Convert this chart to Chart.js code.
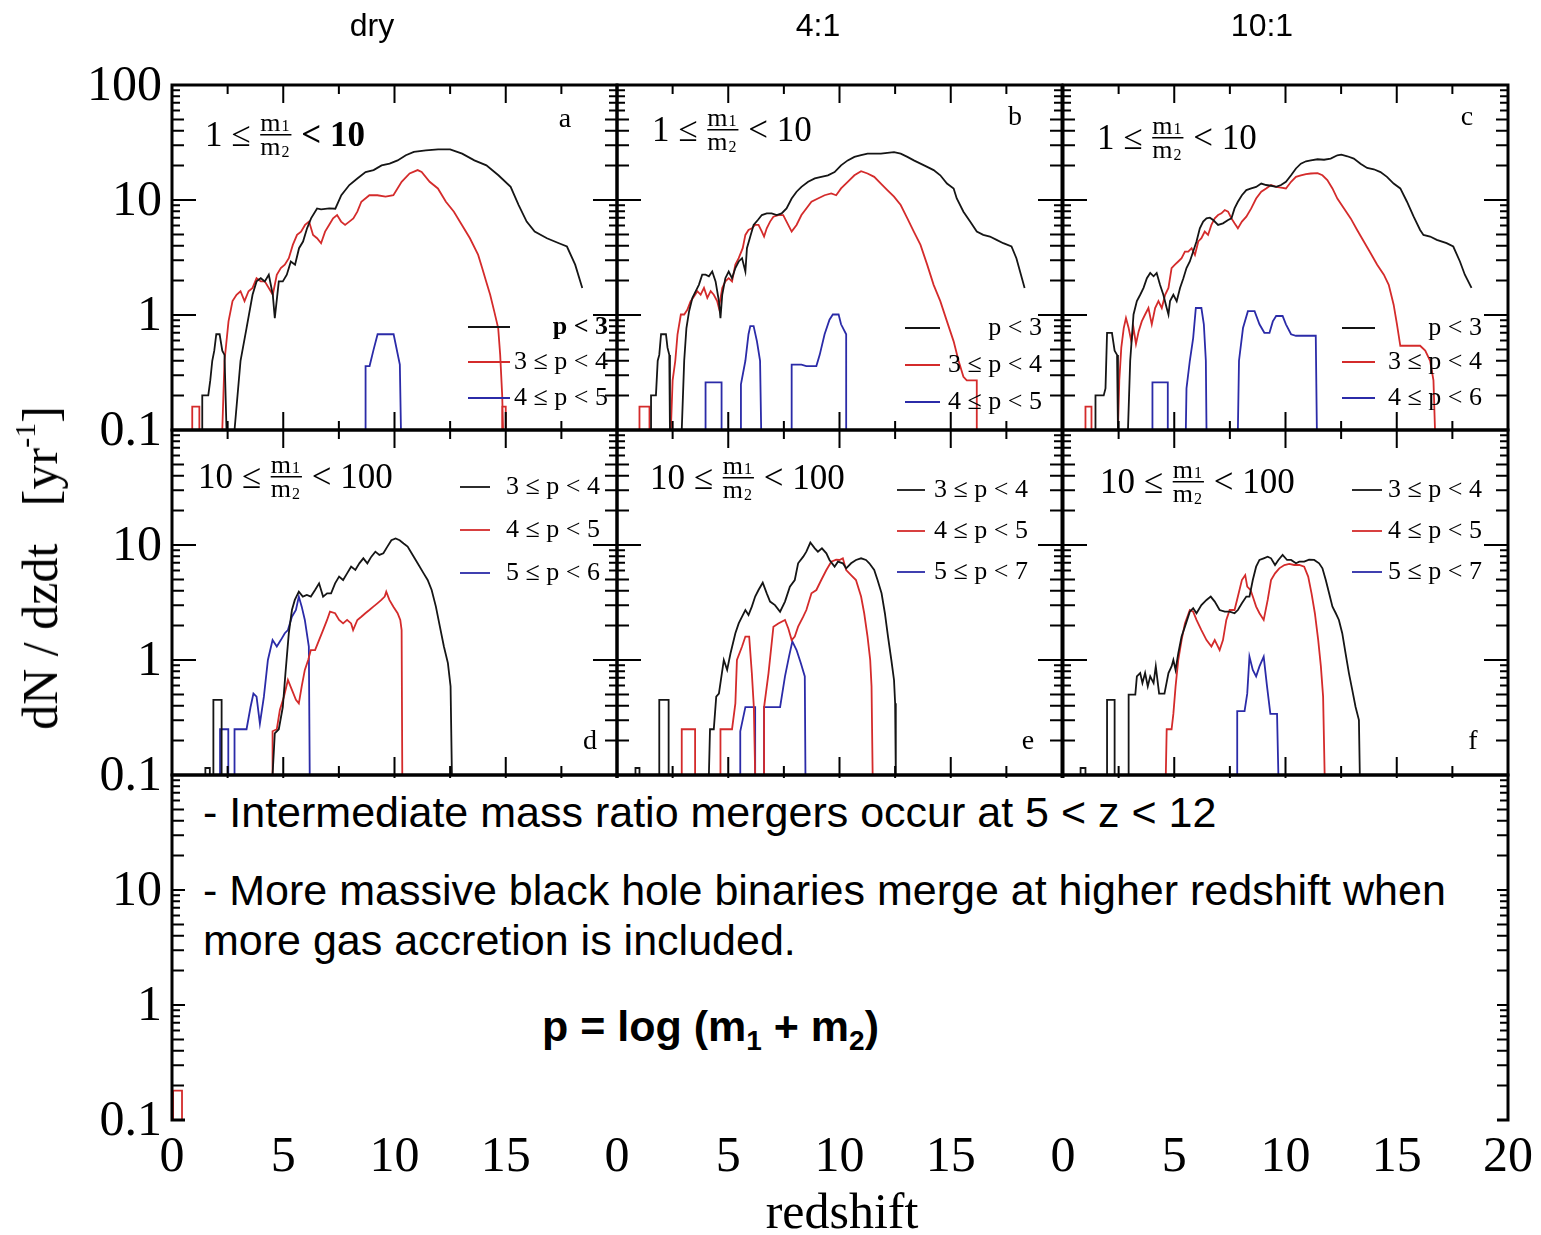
<!DOCTYPE html>
<html>
<head>
<meta charset="utf-8">
<title>Merger rates vs redshift</title>
<script src="https://cdn.jsdelivr.net/npm/chart.js@4.4.0/dist/chart.umd.min.js"></script>
<style>
  body { margin: 0; background: #fff; }
  #fig { position: relative; width: 1541px; height: 1235px; overflow: hidden; background: #fff; }
  #panels canvas { position: absolute; }
  #panels { position: absolute; left: 0; top: 0; width: 1541px; height: 1235px; z-index: 1; }
  .colTitle { position: absolute; top: 9px; width: 200px; margin-left: -100px; text-align: center;
              font: 32px "Liberation Sans", Arial, sans-serif; line-height: 32px; z-index: 3; }
  .axisTitle { position: absolute; font: 50px "Liberation Serif", "Times New Roman", serif; line-height: 50px;
               white-space: nowrap; z-index: 3; }
  #ytitle { left: 40px; top: 568px; transform: translate(-50%, -50%) rotate(-90deg); }
  #ytitle sup { font-size: 30px; vertical-align: 22px; line-height: 0; }
  #xtitle { left: 842px; top: 1186px; transform: translateX(-50%); }
  #note { position: absolute; left: 185px; top: 778px; width: 1312px; height: 344px; background: #fff; z-index: 2;
          font: 43px "Liberation Sans", Arial, sans-serif; line-height: 43px; color: #000; }
  #note div { position: absolute; left: 18px; white-space: nowrap; }
  #note .formula { left: 357px; font-weight: bold; }
  #note sub { font-size: 28px; vertical-align: -9px; line-height: 0; }
</style>
</head>
<body>
<div id="fig">
  <div id="panels"></div>
  <div id="titles"></div>
  <div class="axisTitle" id="ytitle">dN / dzdt&nbsp;&nbsp;&nbsp;[yr<sup>-1</sup>]</div>
  <div class="axisTitle" id="xtitle">redshift</div>
  <div id="note">
    <div style="top:13px">- Intermediate mass ratio mergers occur at 5 &lt; z &lt; 12</div>
    <div style="top:91px">- More massive black hole binaries merge at higher redshift when</div>
    <div style="top:141px">more gas accretion is included.</div>
    <div class="formula" style="top:227px">p = log (m<sub>1</sub> + m<sub>2</sub>)</div>
  </div>
</div>
<script>
// column headings and axis ticks
const colTitles = ['dry', '4:1', '10:1'];
const colTitleX = [372, 818, 1262];
const yTickVals = [0.1, 1, 10, 100];
const xTickVals = [0, 5, 10, 15, 20];

// legend labels
const legendTop = ['p < 3', '3 ≤ p < 4', '4 ≤ p < 5'];
const legendTopC = ['p < 3', '3 ≤ p < 4', '4 ≤ p < 6'];
const legendMidD = ['3 ≤ p < 4', '4 ≤ p < 5', '5 ≤ p < 6'];
const legendMidEF = ['3 ≤ p < 4', '4 ≤ p < 5', '5 ≤ p < 7'];

// [redshift, dN/dzdt]; null breaks the line
const pa_black = [[1.36,0.1],[1.36,0.2],[1.63,0.2],[1.72,0.27],[1.81,0.4],[1.9,0.49],[1.99,0.68],[2.14,0.68],[2.26,0.49],[2.36,0.45],[2.45,0.1],null,
  [2.81,0.1],[3.08,0.4],[3.35,0.77],[3.62,1.5],[3.8,1.96],[3.99,2.09],[4.17,1.96],[4.35,2.24],[4.53,1.5],[4.62,0.94],[4.8,1.96],[4.98,1.96],[5.16,2.24],[5.34,2.92],[5.53,2.74],[5.71,3.81],[5.89,4.35],[6.07,5.67],[6.25,6.92],[6.52,8.45],[6.7,8.3],[7.07,8.45],[7.34,8.4],[7.61,11],[7.97,13.5],[8.33,15.4],[8.7,17.5],[9.06,18.2],[9.42,20],[9.78,20.7],[10.14,22.1],[10.51,24.5],[10.87,26.2],[11.41,27],[11.96,27.6],[12.5,27.6],[13.04,25.3],[13.59,22.1],[14.13,20],[14.67,16.4],[15.22,13],[15.58,9.04],[15.94,6.49],[16.3,5.31],[16.85,4.65],[17.39,4.21],[17.75,3.94],[18.12,2.74],[18.44,1.72]];
const pa_red = [[0.91,0.1],[0.91,0.16],[1.23,0.16],[1.23,0.1],null,
  [2.26,0.1],[2.36,0.4],[2.54,0.88],[2.72,1.32],[2.9,1.5],[3.08,1.61],[3.26,1.32],[3.44,1.61],[3.62,1.72],[3.8,2.09],[3.99,1.96],[4.17,1.96],[4.35,1.72],[4.53,1.5],[4.71,2.24],[4.89,2.56],[5.07,2.74],[5.25,3.12],[5.43,4.07],[5.62,4.97],[5.8,5.31],[5.98,6.07],[6.16,6.49],[6.34,4.97],[6.52,4.65],[6.7,4.21],[6.88,5.31],[7.06,6.07],[7.24,6.92],[7.42,7.4],[7.6,6.49],[7.78,6.07],[7.97,6.49],[8.15,6.92],[8.33,7.91],[8.51,9.66],[8.87,11],[9.23,11],[9.6,10.7],[9.95,11],[10.32,14.4],[10.68,17],[11.04,18.2],[11.22,17.5],[11.58,14.4],[11.95,12.6],[12.31,9.66],[12.67,7.91],[13.03,6.07],[13.39,4.65],[13.76,3.33],[13.94,2.56],[14.12,1.96],[14.3,1.5],[14.48,1.08],[14.66,0.77],[14.75,0.45],[14.84,0.2],[14.88,0.1],null,
  [14.84,0.1],[14.84,0.16],[15.0,0.16],[15.0,0.1]];
const pa_blue = [[8.7,0.1],[8.7,0.36],[8.88,0.36],[9.06,0.5],[9.24,0.68],[9.96,0.68],[10.24,0.37],[10.29,0.1]];

const pb_black = [[1.53,0.1],[1.53,0.2],[1.75,0.2],[1.83,0.4],[1.9,0.45],[1.98,0.68],[2.2,0.68],[2.27,0.52],[2.35,0.45],[2.38,0.1],null,
  [2.91,0.1],[3.02,0.4],[3.12,0.77],[3.24,1.08],[3.39,1.41],[3.54,1.61],[3.68,1.83],[3.83,2.24],[3.98,2.24],[4.13,2.17],[4.28,2.39],[4.43,1.96],[4.58,1.32],[4.65,0.94],[4.73,1.5],[4.87,2.09],[5.02,2.39],[5.17,2.09],[5.32,2.56],[5.47,2.92],[5.62,3.12],[5.77,2.39],[5.84,3.81],[5.99,4.81],[6.14,6.07],[6.33,6.7],[6.51,7.4],[6.73,7.65],[6.95,7.65],[7.18,7.4],[7.4,7.65],[7.62,8.45],[7.85,10.3],[8.07,11.8],[8.29,13],[8.59,14.4],[8.89,15.4],[9.18,15.9],[9.48,16.4],[9.78,17.5],[10.07,20],[10.37,22.1],[10.67,23.7],[10.97,24.5],[11.26,25.3],[11.56,25.3],[11.86,25.3],[12.15,25.7],[12.45,26.1],[12.75,25.3],[13.05,23.7],[13.34,22.1],[13.64,20.7],[13.94,19.4],[14.23,18.2],[14.53,16.4],[14.83,13.9],[15.13,12.6],[15.27,10.3],[15.57,7.91],[15.87,6.49],[16.17,5.31],[16.46,4.97],[16.76,4.81],[17.06,4.5],[17.36,4.21],[17.73,3.94],[17.95,3.12],[18.32,1.72]];
const pb_red = [[1.01,0.1],[1.01,0.16],[1.46,0.16],[1.46,0.1],null,
  [2.42,0.1],[2.5,0.27],[2.62,0.4],[2.72,0.68],[2.87,1.01],[3.02,1.01],[3.16,1.11],[3.31,1.32],[3.46,1.45],[3.61,1.61],[3.76,1.5],[3.91,1.72],[4.06,1.41],[4.21,1.61],[4.35,1.5],[4.5,1.32],[4.58,1.15],[4.73,1.72],[4.87,1.96],[5.02,2.09],[5.17,1.96],[5.32,2.74],[5.47,3.12],[5.65,3.81],[5.77,4.97],[5.91,5.49],[6.06,5.67],[6.21,6.07],[6.36,6.07],[6.51,5.31],[6.61,4.81],[6.73,5.67],[6.88,6.49],[7.03,7.16],[7.25,7.4],[7.47,7.4],[7.62,6.49],[7.85,5.31],[8.07,6.07],[8.29,7.4],[8.51,8.45],[8.74,9.66],[9.03,10.3],[9.33,11],[9.63,11.4],[9.85,11],[10.07,12.6],[10.37,14.4],[10.67,16.4],[10.97,17.8],[11.26,17],[11.56,15.9],[11.86,13.9],[12.15,12.2],[12.45,10.7],[12.75,9.04],[13.05,6.92],[13.34,5.31],[13.64,4.07],[13.94,2.74],[14.23,1.83],[14.53,1.32],[14.83,0.88],[15.13,0.59],[15.35,0.4],[15.57,0.29],[15.72,0.27],[16.17,0.27],[16.17,0.1]];
const pb_blue = [[3.98,0.1],[3.98,0.26],[4.7,0.26],[4.7,0.1],null,
  [5.57,0.1],[5.57,0.25],[5.77,0.4],[5.91,0.68],[5.99,0.8],[6.14,0.8],[6.29,0.59],[6.43,0.4],[6.48,0.1],null,
  [7.85,0.1],[7.85,0.37],[8.29,0.37],[8.51,0.36],[8.96,0.36],[9.11,0.45],[9.33,0.68],[9.55,0.91],[9.7,1.01],[9.96,1.01],[10.07,0.83],[10.3,0.68],[10.3,0.1]];

const pc_black = [[1.46,0.1],[1.46,0.2],[1.83,0.2],[1.91,0.23],[1.98,0.7],[2.2,0.7],[2.32,0.49],[2.43,0.45],[2.47,0.1],null,
  [2.92,0.1],[3.02,0.4],[3.17,1.01],[3.32,1.32],[3.47,1.5],[3.62,1.72],[3.77,2.09],[3.92,2.32],[4.07,2.17],[4.21,2.32],[4.36,1.83],[4.51,1.5],[4.66,1.15],[4.74,1.01],[4.81,1.32],[4.96,1.5],[5.11,1.32],[5.26,1.72],[5.41,2.09],[5.55,2.56],[5.7,2.92],[5.85,3.56],[6.0,4.36],[6.15,5.67],[6.3,6.49],[6.45,6.92],[6.6,7.02],[6.75,6.7],[6.97,6.07],[7.19,6.27],[7.42,6.7],[7.57,6.92],[7.71,8.45],[7.86,9.66],[8.04,11],[8.24,12.2],[8.46,12.6],[8.68,13],[8.91,13.9],[9.13,13.5],[9.35,13.3],[9.58,13],[9.8,13.5],[10.02,14.4],[10.25,16.4],[10.47,18.8],[10.69,20.7],[10.92,21.7],[11.14,22.1],[11.44,22.6],[11.73,22.4],[12.03,22.9],[12.33,24.5],[12.51,24.8],[12.78,24],[13.07,22.9],[13.37,20.7],[13.67,19],[13.97,18.5],[14.27,17.5],[14.56,15.9],[14.86,13.9],[15.16,12.6],[15.46,9.66],[15.76,7.16],[16.05,5.49],[16.2,4.97],[16.5,4.81],[16.8,4.5],[17.24,4.21],[17.54,3.94],[17.84,2.92],[18.06,2.24],[18.36,1.72]];
const pc_red = [[1.01,0.1],[1.01,0.16],[1.28,0.16],[1.28,0.1],null,
  [2.47,0.1],[2.53,0.27],[2.62,0.52],[2.73,0.77],[2.83,0.94],[2.95,0.77],[3.07,0.59],[3.17,0.77],[3.28,0.56],[3.4,0.72],[3.54,0.88],[3.69,1.01],[3.84,1.15],[3.99,0.83],[4.14,1.15],[4.29,1.32],[4.44,1.15],[4.59,1.5],[4.74,1.72],[4.88,2.56],[5.03,2.74],[5.18,2.92],[5.33,3.12],[5.48,3.56],[5.63,3.56],[5.78,3.81],[5.93,3.33],[6.08,4.36],[6.22,4.65],[6.37,5.31],[6.52,4.97],[6.67,6.07],[6.82,6.92],[6.97,7.4],[7.12,7.65],[7.27,8.18],[7.42,7.91],[7.57,6.92],[7.71,6.27],[7.86,5.67],[8.04,6.49],[8.24,7.16],[8.46,8.45],[8.68,10.3],[8.91,11.8],[9.13,12.6],[9.35,13.5],[9.58,13],[9.8,12.8],[10.02,12.6],[10.25,14.4],[10.47,15.9],[10.69,16.4],[10.92,16.8],[11.14,17],[11.44,17.1],[11.66,16.4],[11.88,14.9],[12.11,12.6],[12.33,10.3],[12.63,8.45],[12.93,6.92],[13.22,5.49],[13.52,4.36],[13.82,3.46],[14.12,2.74],[14.42,2.24],[14.64,1.83],[14.86,1.23],[15.01,0.83],[15.16,0.54],[16.05,0.54],[16.28,0.49],[16.5,0.4],[16.65,0.27],[16.72,0.1]];
const pc_blue = [[4.02,0.1],[4.02,0.26],[4.71,0.26],[4.71,0.1],null,
  [5.52,0.1],[5.55,0.23],[5.7,0.4],[5.85,0.63],[5.97,1.15],[6.22,1.15],[6.33,0.83],[6.42,0.4],[6.45,0.1],null,
  [7.86,0.1],[7.91,0.4],[8.09,0.77],[8.31,1.08],[8.61,1.08],[8.83,0.83],[9.05,0.7],[9.28,0.7],[9.43,0.88],[9.58,0.98],[9.87,0.98],[10.02,0.83],[10.25,0.68],[10.47,0.66],[11.36,0.66],[11.41,0.1]];

const pd_black = [[1.5,0.1],[1.5,0.115],[1.7,0.115],[1.7,0.1],null,[1.86,0.1],[1.86,0.45],[2.23,0.45],[2.23,0.1],null,
  [4.52,0.1],[4.62,0.23],[4.8,0.25],[4.98,0.39],[5.1,0.77],[5.25,1.71],[5.39,2.72],[5.52,3.33],[5.7,3.93],[5.88,3.56],[6.06,3.68],[6.24,3.56],[6.43,4.06],[6.61,4.64],[6.79,3.56],[6.97,3.8],[7.15,3.8],[7.33,4.64],[7.51,5.31],[7.69,4.96],[7.87,5.67],[8.05,6.48],[8.24,6.06],[8.42,6.93],[8.6,7.66],[8.78,6.93],[8.96,7.92],[9.14,8.75],[9.32,8.2],[9.5,8.47],[9.68,9.68],[9.86,11],[10.05,11.4],[10.23,11],[10.41,10.3],[10.59,9.68],[10.77,8.47],[11.04,6.93],[11.31,5.67],[11.49,4.96],[11.67,4.06],[11.86,2.91],[12.04,1.95],[12.22,1.31],[12.4,0.94],[12.52,0.59],[12.58,0.1]];
const pd_red = [[4.52,0.1],[4.52,0.24],[4.71,0.25],[4.85,0.37],[5.03,0.48],[5.21,0.67],[5.39,0.55],[5.57,0.45],[5.7,0.42],[5.83,0.59],[5.97,0.82],[6.12,1.0],[6.24,1.22],[6.43,1.22],[6.61,1.49],[6.79,1.82],[6.97,2.23],[7.1,2.63],[7.33,2.55],[7.51,2.23],[7.69,2.08],[7.87,2.23],[8.05,2.08],[8.14,1.82],[8.33,2.23],[8.51,2.38],[8.69,2.55],[8.87,2.72],[9.05,2.91],[9.23,3.11],[9.41,3.33],[9.56,3.56],[9.63,3.93],[9.77,3.33],[9.95,2.91],[10.14,2.55],[10.26,2.23],[10.32,1.82],[10.35,0.1]];
const pd_blue = [[2.16,0.1],[2.16,0.25],[2.53,0.25],[2.53,0.1],null,
  [2.81,0.1],[2.81,0.25],[3.35,0.25],[3.53,0.39],[3.66,0.51],[3.8,0.48],[3.95,0.28],[4.13,0.48],[4.31,1.0],[4.52,1.49],[4.71,1.31],[4.89,1.49],[5.07,1.71],[5.21,1.82],[5.39,2.38],[5.57,2.72],[5.7,3.56],[5.83,2.91],[5.97,2.23],[6.15,1.31],[6.19,0.1]];

const pe_black = [[0.83,0.1],[0.83,0.115],[1.01,0.115],[1.01,0.1],null,[1.9,0.1],[1.9,0.45],[2.32,0.45],[2.32,0.1],null,
  [4.13,0.1],[4.18,0.25],[4.35,0.25],[4.46,0.48],[4.58,0.51],[4.8,1.0],[4.95,0.82],[5.1,1.14],[5.32,1.71],[5.47,2.08],[5.62,2.38],[5.77,2.72],[5.91,2.46],[6.06,2.91],[6.21,3.56],[6.36,4.06],[6.55,4.7],[6.73,3.8],[6.88,3.22],[7.1,3.0],[7.33,2.63],[7.55,3.22],[7.77,4.34],[7.99,4.96],[8.14,6.93],[8.37,7.92],[8.51,8.75],[8.69,10.5],[8.89,9.35],[9.03,8.75],[9.21,9.35],[9.41,8.47],[9.55,7.41],[9.78,6.48],[9.93,7.16],[10.15,6.93],[10.3,6.27],[10.52,6.93],[10.74,7.41],[10.97,7.66],[11.19,7.41],[11.34,6.93],[11.56,6.06],[11.71,4.96],[11.89,3.8],[12.04,2.55],[12.18,1.6],[12.33,1.0],[12.45,0.67],[12.5,0.42],[12.53,0.1]];
const pe_red = [[2.91,0.1],[2.91,0.25],[3.51,0.25],[3.51,0.1],null,
  [4.65,0.1],[4.65,0.25],[5.17,0.25],[5.32,0.42],[5.39,1.0],[5.62,1.31],[5.77,1.6],[5.94,1.6],[6.06,0.77],[6.15,0.39],[6.21,0.1],null,
  [6.61,0.1],[6.61,0.39],[6.81,0.77],[7.03,1.95],[7.25,2.08],[7.55,2.23],[7.7,1.88],[7.85,1.49],[7.99,1.6],[8.14,1.95],[8.37,2.38],[8.51,2.72],[8.74,3.8],[8.96,4.06],[9.18,4.96],[9.41,6.06],[9.63,7.16],[9.85,7.45],[10.0,7.41],[10.15,7.66],[10.3,6.06],[10.52,5.48],[10.74,4.96],[10.97,3.56],[11.11,2.55],[11.26,1.6],[11.38,1.0],[11.44,0.59],[11.49,0.1]];
const pe_blue = [[5.54,0.1],[5.54,0.24],[5.77,0.39],[6.21,0.39],[6.21,0.1],null,
  [6.61,0.1],[6.61,0.39],[7.33,0.39],[7.55,0.72],[7.73,1.07],[7.88,1.45],[8.07,1.22],[8.26,0.94],[8.44,0.72],[8.47,0.1]];

const pf_black = [[0.79,0.1],[0.79,0.115],[1.01,0.115],[1.01,0.1],null,[1.98,0.1],[1.98,0.45],[2.32,0.45],[2.32,0.1],null,
  [2.95,0.1],[2.95,0.5],[3.25,0.5],[3.32,0.72],[3.47,0.77],[3.57,0.63],[3.69,0.77],[3.81,0.59],[3.92,0.72],[4.07,0.63],[4.17,0.88],[4.32,0.51],[4.56,0.51],[4.74,0.77],[4.88,0.88],[4.96,1.0],[5.06,0.82],[5.18,1.14],[5.33,1.6],[5.48,1.95],[5.7,2.63],[5.85,2.82],[6.0,2.55],[6.22,3.0],[6.45,3.33],[6.64,3.56],[6.82,3.22],[7.04,2.72],[7.27,2.63],[7.49,2.63],[7.71,2.55],[7.86,2.72],[8.04,3.11],[8.24,3.56],[8.38,3.56],[8.53,4.96],[8.68,6.48],[8.83,7.41],[9.02,7.66],[9.2,7.92],[9.35,7.66],[9.53,6.7],[9.68,7.41],[9.87,8.2],[10.07,7.41],[10.25,7.41],[10.47,6.93],[10.62,7.16],[10.84,7.16],[11.06,7.45],[11.29,7.41],[11.51,6.93],[11.66,6.27],[11.81,4.96],[11.96,3.8],[12.11,2.91],[12.26,2.55],[12.4,2.23],[12.55,1.71],[12.7,1.14],[12.85,0.77],[13.0,0.55],[13.15,0.39],[13.3,0.3],[13.34,0.1]];
const pf_red = [[4.62,0.1],[4.66,0.25],[4.88,0.25],[4.96,0.34],[5.06,0.59],[5.18,1.0],[5.33,1.49],[5.48,2.08],[5.7,2.72],[5.85,2.63],[6.0,2.23],[6.22,1.82],[6.45,1.49],[6.67,1.31],[6.82,1.49],[7.04,1.22],[7.19,1.49],[7.34,2.23],[7.49,2.72],[7.71,2.72],[7.86,3.56],[8.04,4.96],[8.19,5.48],[8.28,4.34],[8.43,4.06],[8.53,3.56],[8.68,2.91],[8.83,2.55],[9.02,2.23],[9.2,3.33],[9.35,4.96],[9.53,5.67],[9.72,6.27],[9.95,6.7],[10.17,6.85],[10.39,6.7],[10.62,6.7],[10.84,6.48],[11.02,5.31],[11.17,3.8],[11.32,2.55],[11.47,1.49],[11.59,0.88],[11.69,0.48],[11.76,0.1]];
const pf_blue = [[7.83,0.1],[7.83,0.36],[8.16,0.36],[8.28,0.51],[8.38,1.07],[8.53,0.82],[8.68,0.72],[8.83,0.88],[9.02,1.07],[9.17,0.59],[9.32,0.34],[9.62,0.34],[9.68,0.1]];

const pg_red = [[0.05,0.1],[0.05,0.18],[0.45,0.18],[0.45,0.1]];

const BLACK = '#151515', RED = '#d42b2b', BLUE = '#2b2ba8';
const SERIF = '"Liberation Serif", "Times New Roman", serif';

const colLeft = [172, 617, 1063];
const rowTop = [85, 430, 775];
const PW = 445, PH = 345, M = 110;

const topLegend = { x1: 296, x2: 338, tx: 436, ys: [242, 277, 313] };
const midLegend = { x1: 288, x2: 318, tx: 428, ys: [57, 100, 143] };

const panels = [
  { row: 0, col: 0, letter: 'a', lpos: [393, 35], ratio: ['1 ≤ ', ' < 10'], rpos: [33, 50], bold: true,
    series: [[pa_black, BLACK], [pa_red, RED], [pa_blue, BLUE]], labels: legendTop, legend: topLegend },
  { row: 0, col: 1, letter: 'b', lpos: [398, 33], ratio: ['1 ≤ ', ' < 10'], rpos: [35, 45],
    series: [[pb_black, BLACK], [pb_red, RED], [pb_blue, BLUE]], labels: legendTop,
    legend: { x1: 288, x2: 323, tx: 425, ys: [243, 280, 317] } },
  { row: 0, col: 2, letter: 'c', lpos: [404, 33], ratio: ['1 ≤ ', ' < 10'], rpos: [34, 53],
    series: [[pc_black, BLACK], [pc_red, RED], [pc_blue, BLUE]], labels: legendTopC,
    legend: { x1: 279, x2: 312, tx: 419, ys: [243, 277, 313] } },
  { row: 1, col: 0, letter: 'd', lpos: [418, 312], ratio: ['10 ≤ ', ' < 100'], rpos: [26, 47],
    series: [[pd_black, BLACK], [pd_red, RED], [pd_blue, BLUE]], labels: legendMidD, legend: midLegend },
  { row: 1, col: 1, letter: 'e', lpos: [411, 312], ratio: ['10 ≤ ', ' < 100'], rpos: [33, 48],
    series: [[pe_black, BLACK], [pe_red, RED], [pe_blue, BLUE]], labels: legendMidEF,
    legend: { x1: 280, x2: 308, tx: 411, ys: [60, 101, 142] } },
  { row: 1, col: 2, letter: 'f', lpos: [410, 312], ratio: ['10 ≤ ', ' < 100'], rpos: [37, 52],
    series: [[pf_black, BLACK], [pf_red, RED], [pf_blue, BLUE]], labels: legendMidEF,
    legend: { x1: 289, x2: 319, tx: 419, ys: [60, 101, 142] } },
  { row: 2, col: 0, series: [[pg_red, RED]] },
  { row: 2, col: 1, series: [] },
  { row: 2, col: 2, series: [] }
];

function toPoints(pairs) {
  const out = [];
  let lastX = 0;
  for (const p of pairs) {
    if (p === null) { out.push({ x: lastX, y: null }); continue; }
    out.push({ x: p[0], y: p[1] });
    lastX = p[0];
  }
  return out;
}

function drawRatio(ctx, x, y, pre, post, bold) {
  const big = '35px ' + SERIF;
  ctx.textAlign = 'left';
  ctx.textBaseline = 'alphabetic';
  ctx.font = big;
  ctx.fillText(pre, x, y + 11);
  let cx = x + ctx.measureText(pre).width + 1;
  ctx.font = '26px ' + SERIF;
  const mw = ctx.measureText('m').width;
  ctx.fillText('m', cx, y - 4);
  ctx.fillText('m', cx, y + 20);
  ctx.font = '16px ' + SERIF;
  const dw = ctx.measureText('1').width;
  ctx.fillText('1', cx + mw + 1, y - 4);
  ctx.fillText('2', cx + mw + 1, y + 22);
  const fw = mw + dw + 3;
  ctx.fillRect(cx, y - 1, fw, 1.5);
  cx += fw + 1;
  ctx.font = (bold ? 'bold ' : '') + big;
  ctx.fillText(post, cx, y + 11);
}

// frame, inward ticks, tick labels and the in-panel annotations
const panelFrame = {
  id: 'panelFrame',
  afterDatasetsDraw(chart, args, o) {
    const { ctx, chartArea: a, scales: { x, y } } = chart;
    ctx.save();
    ctx.strokeStyle = '#000';
    ctx.fillStyle = '#000';
    ctx.lineWidth = 2;
    ctx.beginPath();
    for (let v = 2.5; v < 20; v += 2.5) {
      const px = x.getPixelForValue(v);
      const len = v % 5 === 0 ? 18 : 9;
      ctx.moveTo(px, a.top); ctx.lineTo(px, a.top + len);
      ctx.moveTo(px, a.bottom); ctx.lineTo(px, a.bottom - len);
    }
    for (const dec of [0.1, 1, 10]) {
      for (let k = 1; k <= 9; k++) {
        if (dec === 0.1 && k === 1) continue;
        const py = y.getPixelForValue(dec * k);
        const len = k === 1 ? 24 : (k <= 5 ? 12 : 8);
        ctx.moveTo(a.left, py); ctx.lineTo(a.left + len, py);
        ctx.moveTo(a.right, py); ctx.lineTo(a.right - len, py);
      }
    }
    ctx.stroke();
    ctx.lineWidth = 3;
    ctx.strokeRect(a.left, a.top, a.right - a.left, a.bottom - a.top);

    ctx.font = '50px ' + SERIF;
    if (o.col === 0) {
      ctx.textAlign = 'right';
      ctx.textBaseline = 'middle';
      yTickVals.filter(v => v < 100 || o.row === 0).forEach(v => {
        ctx.fillText(String(v), a.left - 10, y.getPixelForValue(v) + 2);
      });
    }
    if (o.row === 2) {
      ctx.textAlign = 'center';
      ctx.textBaseline = 'middle';
      xTickVals.filter(v => v < 20 || o.col === 2).forEach(v => {
        ctx.fillText(String(v), x.getPixelForValue(v), a.bottom + 38);
      });
    }

    if (o.letter) {
      ctx.font = '28px ' + SERIF;
      ctx.textAlign = 'center';
      ctx.textBaseline = 'middle';
      ctx.fillText(o.letter, a.left + o.lpos[0], a.top + o.lpos[1]);
      drawRatio(ctx, a.left + o.rpos[0], a.top + o.rpos[1], o.ratio[0], o.ratio[1], o.bold);
    }
    if (o.legend) {
      const lg = o.legend;
      ctx.lineWidth = 1.8;
      chart.data.datasets.forEach((ds, i) => {
        if (!ds.label) return;
        const ly = a.top + lg.ys[i];
        ctx.strokeStyle = ds.borderColor;
        ctx.beginPath();
        ctx.moveTo(a.left + lg.x1, ly);
        ctx.lineTo(a.left + lg.x2, ly);
        ctx.stroke();
        ctx.fillStyle = '#000';
        ctx.font = (o.bold && i === 0 ? 'bold ' : '') + '26px ' + SERIF;
        ctx.textAlign = 'right';
        ctx.textBaseline = 'middle';
        ctx.fillText(ds.label, a.left + lg.tx, ly);
      });
    }
    ctx.restore();
  }
};

const holder = document.getElementById('panels');
panels.forEach(p => {
  const cv = document.createElement('canvas');
  cv.width = PW + 2 * M;
  cv.height = PH + 2 * M;
  cv.style.left = (colLeft[p.col] - M) + 'px';
  cv.style.top = (rowTop[p.row] - M) + 'px';
  holder.appendChild(cv);
  new Chart(cv, {
    type: 'line',
    data: {
      datasets: p.series.map(([pts, color], i) => ({
        label: p.labels ? p.labels[i] : '',
        data: toPoints(pts),
        borderColor: color,
        borderWidth: 1.8,
        pointRadius: 0,
        tension: 0,
        spanGaps: false,
        fill: false
      }))
    },
    options: {
      responsive: false,
      animation: false,
      events: [],
      layout: { padding: M },
      plugins: {
        legend: { display: false },
        tooltip: { enabled: false },
        panelFrame: {
          row: p.row, col: p.col, letter: p.letter, lpos: p.lpos,
          ratio: p.ratio, rpos: p.rpos, bold: p.bold, legend: p.legend
        }
      },
      scales: {
        x: { type: 'linear', min: 0, max: 20, display: false },
        y: { type: 'logarithmic', min: 0.1, max: 100, display: false }
      }
    },
    plugins: [panelFrame]
  });
});

const titles = document.getElementById('titles');
colTitles.forEach((t, i) => {
  const d = document.createElement('div');
  d.className = 'colTitle';
  d.style.left = colTitleX[i] + 'px';
  d.textContent = t;
  titles.appendChild(d);
});
</script>
</body>
</html>
